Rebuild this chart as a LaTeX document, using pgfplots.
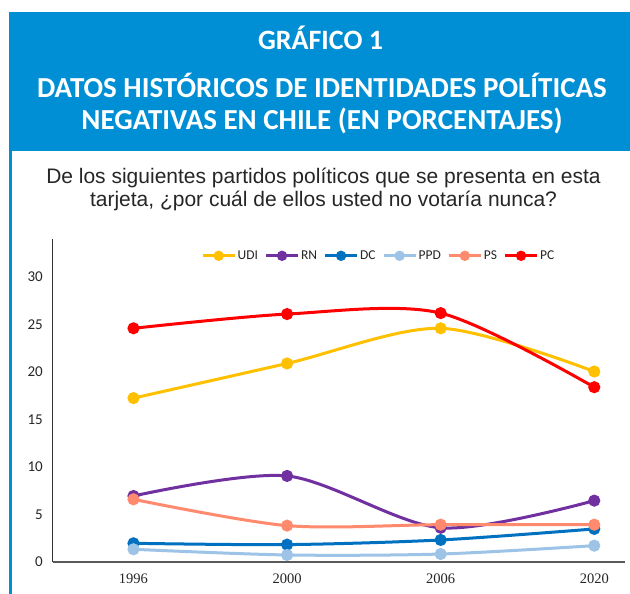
\documentclass[border=0pt]{standalone}
\usepackage{fontspec}
\setmainfont{Carlito}
\newfontfamily\arialf{Liberation Sans}
\newfontfamily\timesf{Liberation Serif}
\usepackage{pgfplots}
\pgfplotsset{compat=1.18}
\definecolor{hdrblue}{RGB}{0,143,212}
\definecolor{cUDI}{RGB}{255,192,0}
\definecolor{cRN}{RGB}{112,48,160}
\definecolor{cDC}{RGB}{0,112,192}
\definecolor{cPPD}{RGB}{157,195,230}
\definecolor{cPS}{RGB}{255,138,110}
\definecolor{cPC}{RGB}{255,0,0}
\begin{document}
\begin{tikzpicture}[x=1pt,y=1pt]
\useasboundingbox (0,0) rectangle (630,-594);
\fill[white] (0,0) rectangle (630,-594);
% header
\fill[hdrblue] (9,-12) rectangle (632,-151);
\fill[hdrblue] (9,-151) rectangle (12,-595);
\node[anchor=base,text=white,inner sep=0pt,font=\bfseries\fontsize{28}{31}\selectfont] at (320.5,-50) {GRÁFICO 1};
\node[anchor=base,text=white,inner sep=0pt,font=\bfseries\fontsize{29}{31}\selectfont] at (322,-98) {DATOS HISTÓRICOS DE IDENTIDADES POLÍTICAS};
\node[anchor=base,text=white,inner sep=0pt,font=\bfseries\fontsize{29}{31}\selectfont] at (322,-129) {NEGATIVAS EN CHILE (EN PORCENTAJES)};
\node[anchor=base,text=black!85,inner sep=0pt,font=\arialf\fontsize{21}{22}\selectfont] at (323.5,-183) {De los siguientes partidos políticos que se presenta en esta};
\node[anchor=base,text=black!85,inner sep=0pt,font=\arialf\fontsize{21}{22}\selectfont] at (323.5,-206) {tarjeta, ¿por cuál de ellos usted no votaría nunca?};
\begin{axis}[
  at={(53pt,-562pt)}, anchor=south west,
  scale only axis, width=572pt, height=323pt,
  xmin=-0.524, xmax=3.2, ymin=0, ymax=34,
  axis x line*=bottom, axis y line*=left,
  x axis line style={draw=black!65, line width=2pt, -},
  y axis line style={draw=black!80, line width=1pt, -},
  xtick={0,1,2,3}, xticklabels={1996,2000,2006,2020},
  ytick={0,5,10,15,20,25,30},
  major tick length=0pt,
  /pgf/number format/assume math mode=true,
  yticklabel style={font=\fontsize{15}{15}\selectfont, inner sep=0pt, xshift=-10pt, text=black!85},
  xticklabel style={font=\timesf\fontsize{14.5}{14.5}\selectfont, inner sep=0pt, yshift=-12pt, text=black!85},
  every axis plot/.append style={line width=3pt, smooth, mark=*, mark size=4.5pt},
  legend columns=6,
  legend style={draw=none, fill=none, at={(0.2587,0.948)}, anchor=west, inner sep=0pt,
    font=\fontsize{13.5}{13.5}\selectfont, text=black!85,
    /tikz/every even column/.append style={column sep=5pt},
    nodes={inner sep=1.5pt}},
  legend image code/.code={\draw[mark repeat=2,mark phase=2,#1,mark size=3.6pt] plot coordinates {(0pt,0pt) (16pt,0pt) (32pt,0pt)};},
]
\addplot[color=cUDI] coordinates {(0,17.25) (1,20.9) (2,24.6) (3,20.05)};
\addlegendentry{UDI}
\addplot[color=cRN] coordinates {(0,6.95) (1,9.06) (2,3.6) (3,6.46)};
\addlegendentry{RN}
\addplot[color=cDC] coordinates {(0,1.97) (1,1.83) (2,2.32) (3,3.48)};
\addlegendentry{DC}
\addplot[color=cPPD] coordinates {(0,1.34) (1,0.74) (2,0.84) (3,1.72)};
\addlegendentry{PPD}
\addplot[color=cPS] coordinates {(0,6.6) (1,3.83) (2,3.93) (3,3.93)};
\addlegendentry{PS}
\addplot[color=cPC] coordinates {(0,24.6) (1,26.1) (2,26.2) (3,18.4)};
\addlegendentry{PC}
\end{axis}
\end{tikzpicture}
\end{document}
